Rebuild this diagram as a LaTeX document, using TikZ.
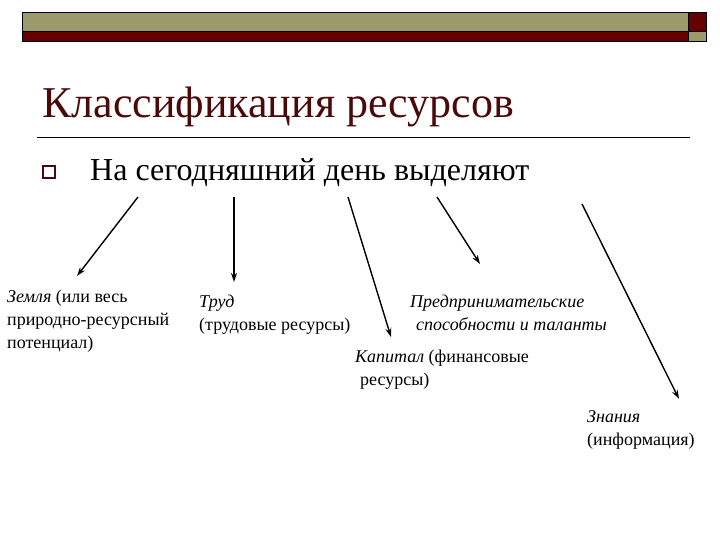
\documentclass[tikz,border=0pt]{standalone}
\usepackage{fontspec}
\setmainfont{Liberation Serif}
\usetikzlibrary{arrows.meta}
\definecolor{olivebar}{HTML}{9C9A6A}
\definecolor{redbar}{HTML}{660000}
\definecolor{titlecol}{HTML}{4B0A0A}
\tikzset{
  lbl/.style={anchor=base west, inner sep=0pt, font=\fontsize{18}{23}\selectfont, align=left},
  arr/.style={-{Stealth[length=9pt,width=6pt]}, line width=1.4pt, black},
}
\begin{document}
\begin{tikzpicture}[x=1pt,y=-1pt]
\useasboundingbox (0,0) rectangle (720,540);
% header bars
\fill[olivebar] (22,12) rectangle (688,31);
\fill[redbar] (22,31) rectangle (688,41);
\fill[redbar] (688,12) rectangle (706,31);
\fill[olivebar] (688,31) rectangle (706,41);
\draw[line width=0.8pt] (22,12) rectangle (706,41);
\draw[line width=0.6pt] (22,31) -- (706,31) (688,12) -- (688,41);
% title
\node[anchor=base west, inner sep=0pt, text=titlecol, font=\fontsize{44}{44}\selectfont] (title) at (42,118) {Классификация ресурсов};
\draw[line width=0.8pt] (37,137) -- (690,137);
% bullet
\node[draw=titlecol, line width=1.1pt, minimum size=12pt, inner sep=0pt] (bul) at (49,172) {};
\node[anchor=base west, inner sep=0pt, font=\fontsize{32}{32}\selectfont] (sub) at (90,181) {На сегодняшний день выделяют};
% labels (anchored at the baseline of their last line)
\node[lbl] (zem) at (7,348) {\textit{Земля} (или весь\\природно-ресурсный\\потенциал)};
\node[lbl] (trud) at (199,330) {\textit{Труд}\\(трудовые ресурсы)};
\node[lbl] (pred) at (410,330) {\textit{Предпринимательские}\\\hspace{6pt}\textit{способности и таланты}};
\node[lbl] (kap) at (355,385) {\textit{Капитал} (финансовые\\\hspace{5pt}ресурсы)};
\node[lbl] (zn) at (587,445) {\textit{Знания}\\(информация)};
% arrow coordinates
\coordinate (s1) at (138,197); \coordinate (e1) at (77,276);
\coordinate (s2) at (234,197); \coordinate (e2) at (234,282);
\coordinate (s3) at (348,197); \coordinate (e3) at (391,337);
\coordinate (s4) at (437,197); \coordinate (e4) at (480,264);
\coordinate (s5) at (582,204); \coordinate (e5) at (679,399);
\draw[arr] (s1) -- (e1);
\draw[arr] (s2) -- (e2);
\draw[arr] (s3) -- (e3);
\draw[arr] (s4) -- (e4);
\draw[arr] (s5) -- (e5);
\end{tikzpicture}
\end{document}
